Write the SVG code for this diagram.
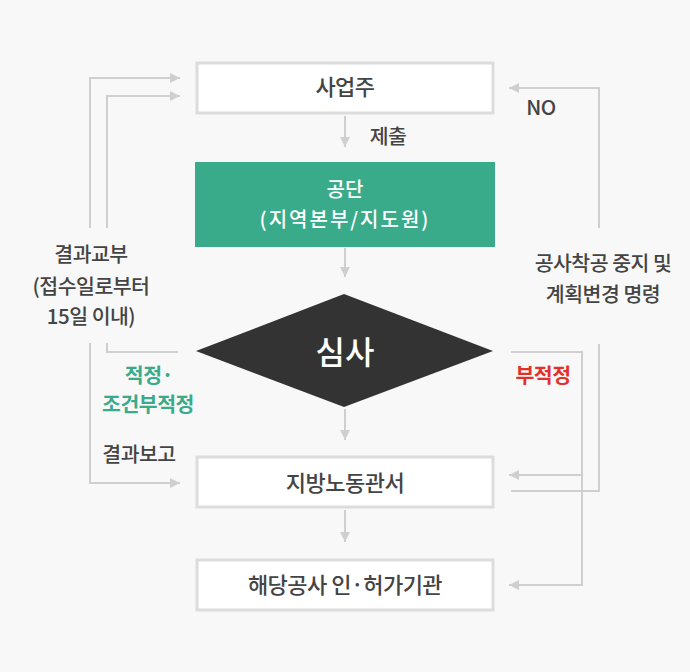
<svg xmlns="http://www.w3.org/2000/svg" width="690" height="672" viewBox="0 0 690 672">
<defs>
<style>
text{font-family:"Noto Sans CJK KR","Noto Sans",sans-serif;text-anchor:middle;font-weight:500}
.box{fill:#fff;stroke:#dcdcdc;stroke-width:3}
.t{font-size:22px;fill:#444;letter-spacing:-0.5px}
.s{font-size:20.5px;fill:#444;letter-spacing:-0.5px}
.c{font-size:20.5px;font-weight:700;letter-spacing:-0.5px}
.ln{fill:none;stroke:#cfcfcf;stroke-width:2}
</style>
<marker id="ah" viewBox="0 0 10 10" refX="10" refY="5" markerWidth="10" markerHeight="10" markerUnits="userSpaceOnUse" orient="auto">
<path d="M0,0 L10,5 L0,10 Z" fill="#cfcfcf"/>
</marker>
</defs>
<rect width="690" height="672" fill="#f8f8f8"/>
<g id="connectors">
<path class="ln" d="M345,116 V147" marker-end="url(#ah)"/>
<path class="ln" d="M345,248 V277" marker-end="url(#ah)"/>
<path class="ln" d="M345,409 V440" marker-end="url(#ah)"/>
<path class="ln" d="M345,510 V542" marker-end="url(#ah)"/>
<path class="ln" d="M90,228 V78 H180" marker-end="url(#ah)"/>
<path class="ln" d="M107,228 V96 H180" marker-end="url(#ah)"/>
<path class="ln" d="M107,343 V352 H178"/>
<path class="ln" d="M90,343 V483 H180" marker-end="url(#ah)"/>
<path class="ln" d="M599,228 V88 H509" marker-end="url(#ah)"/>
<path class="ln" d="M599,344 V491 H511"/>
<path class="ln" d="M511,352 H582 V585 H509" marker-end="url(#ah)"/>
<path class="ln" d="M582,475 H509" marker-end="url(#ah)"/>
</g>
<g id="n1">
<rect class="box" x="197" y="63" width="296" height="50"/>
<text class="t" x="345" y="95">사업주</text>
</g>
<g id="lbl-submit"><text class="s" x="388" y="144">제출</text></g>
<g id="n2">
<rect x="195" y="162" width="300" height="85" fill="#3aab8a"/>
<text x="345" y="197" font-size="20" fill="#fff">공단</text>
<text x="345" y="227" font-size="20" fill="#fff" letter-spacing="2">(지역본부/지도원)</text>
</g>
<g id="n3">
<path d="M344,294 L493,351 L344,407 L196,351 Z" fill="#333"/>
<text x="345" y="364" font-size="32" fill="#fff">심사</text>
</g>
<g id="n4">
<rect class="box" x="197" y="457" width="296" height="50"/>
<text class="t" x="345" y="491">지방노동관서</text>
</g>
<g id="n5">
<rect class="box" x="197" y="560" width="296" height="50"/>
<text class="t" x="345" y="593">해당공사 인·허가기관</text>
</g>
<g id="labels">
<text class="s" x="91" y="262">결과교부</text>
<text class="s" x="91" y="294">(접수일로부터</text>
<text class="s" x="91" y="324">15일 이내)</text>
<text class="c" x="149" y="383" fill="#3aab8a">적정·</text>
<text class="c" x="148" y="412" fill="#3aab8a">조건부적정</text>
<text class="s" x="139" y="462">결과보고</text>
<text class="c" x="543" y="383" fill="#e0322b">부적정</text>
<text class="s" x="541" y="115">NO</text>
<text class="s" x="603" y="271">공사착공 중지 및</text>
<text class="s" x="603" y="302">계획변경 명령</text>
</g>
</svg>
